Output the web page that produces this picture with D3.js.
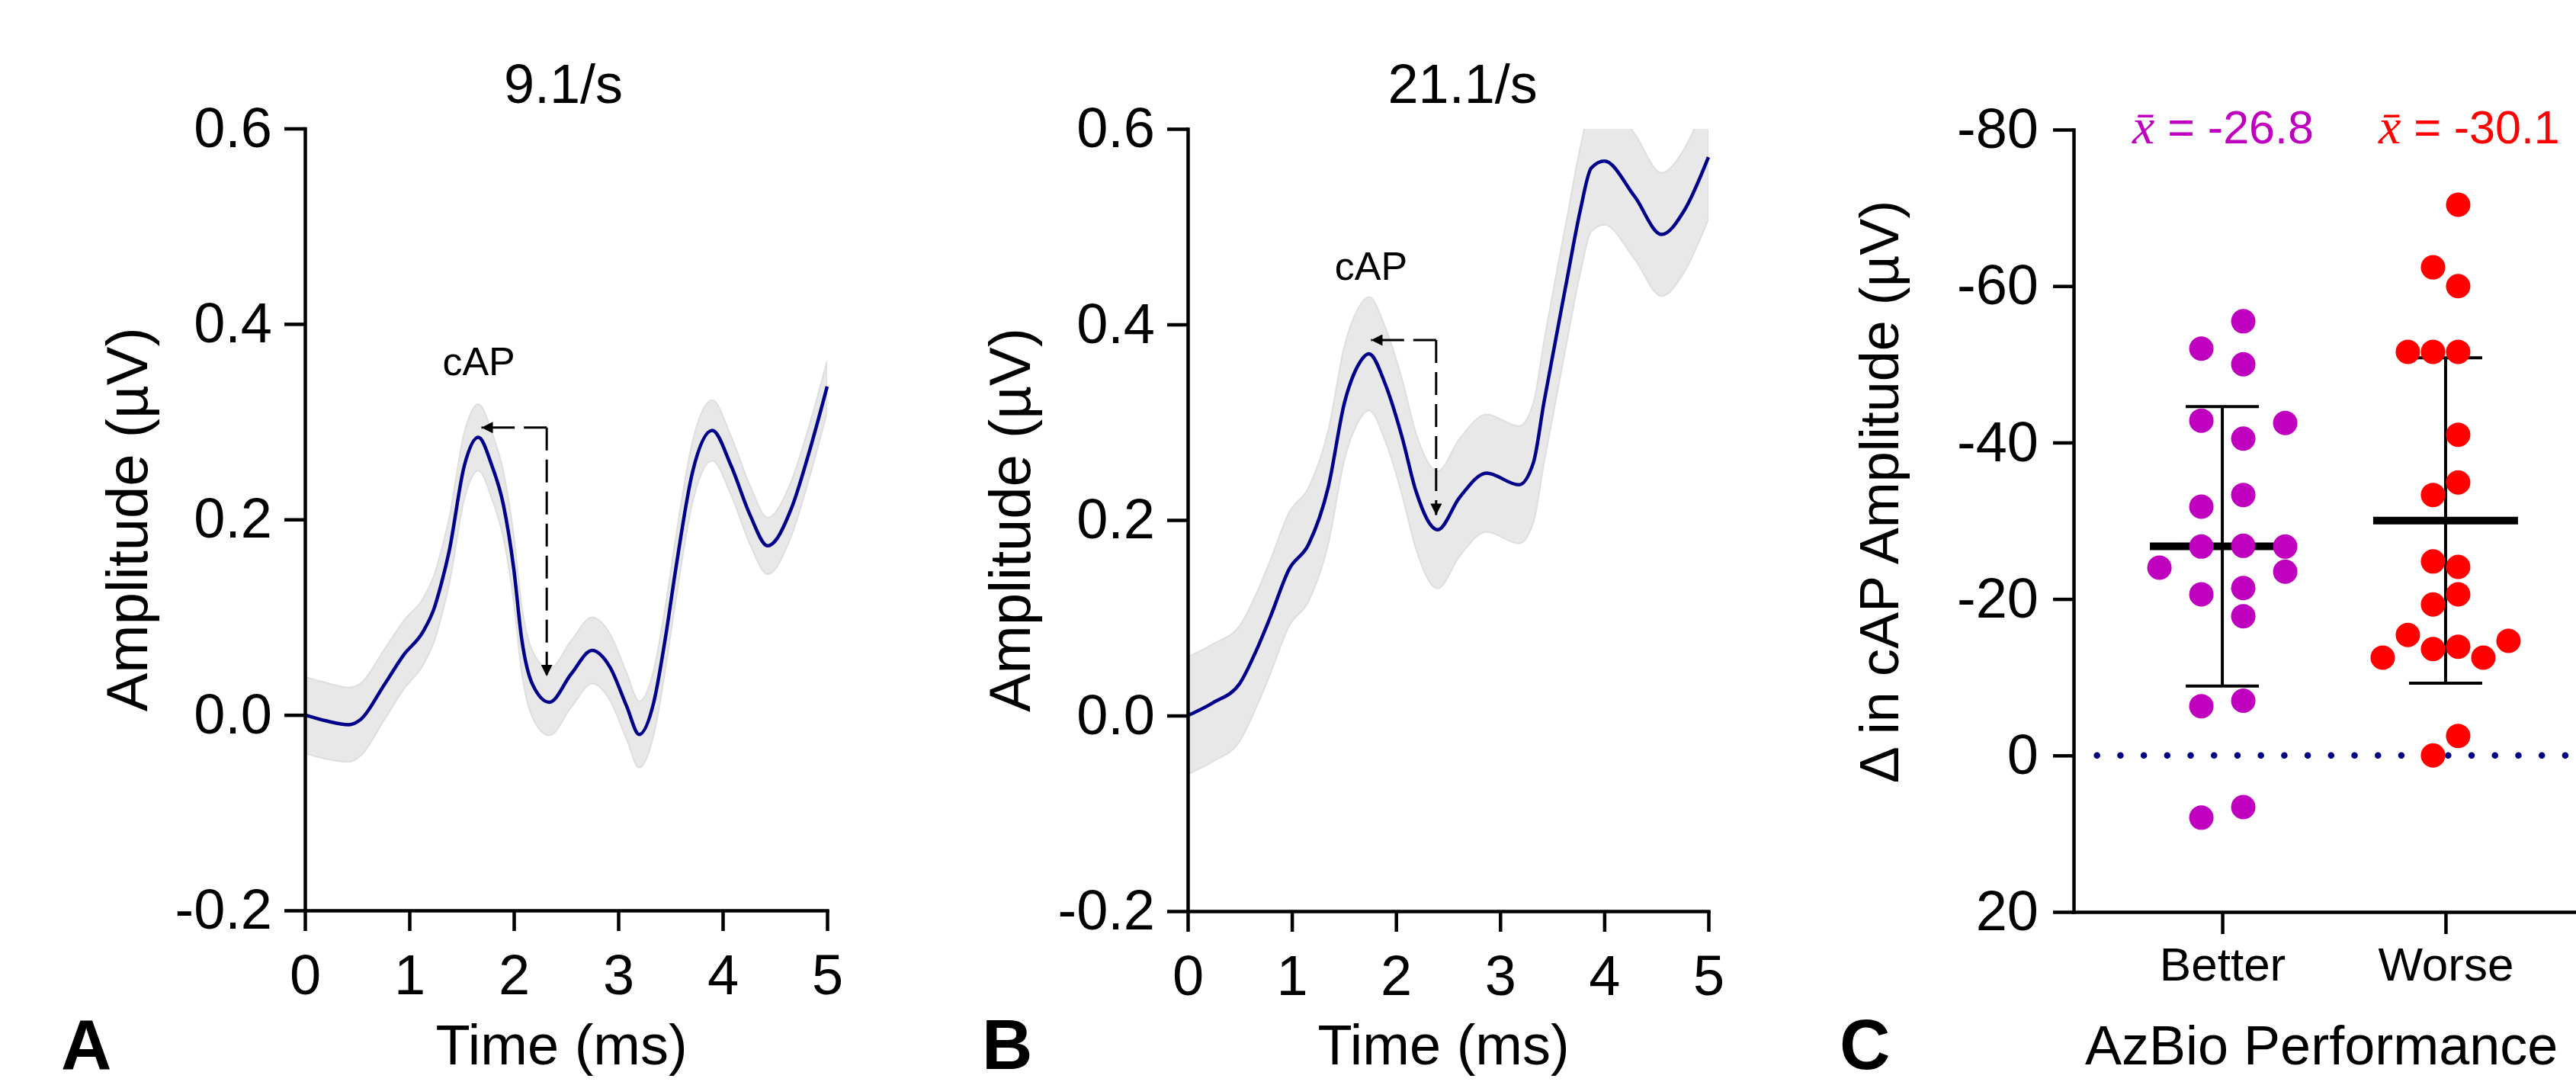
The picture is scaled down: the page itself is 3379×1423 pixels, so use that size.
<!DOCTYPE html>
<html>
<head>
<meta charset="utf-8">
<script src="https://cdn.jsdelivr.net/npm/d3@7"></script>
<style>
  body { margin: 0; background: #fff; }
  svg { display: block; font-family: "Liberation Sans", Arial, sans-serif; }
</style>
</head>
<body>
<svg id="chart" width="3379" height="1423"></svg>
<script>
// panel A, 9.1/s : grand average waveform and its error band
var timeA = [0, 0.2, 0.42, 0.53, 0.76, 0.95, 1.13, 1.24, 1.30, 1.38,
             1.526, 1.66, 1.79, 1.90, 2.0, 2.075, 2.18, 2.34, 2.55, 2.75,
             2.92, 3.08, 3.2, 3.34, 3.45, 3.55, 3.71, 3.9, 4.08, 4.26,
             4.43, 4.66, 4.82, 5.0];
var ampA = [0, -0.006, -0.01, -0.005, 0.031, 0.062, 0.085, 0.11, 0.132, 0.167,
            0.255, 0.284, 0.255, 0.215, 0.149, 0.078, 0.031, 0.013, 0.042, 0.066,
            0.049, 0.009, -0.02, 0.013, 0.078, 0.149, 0.248, 0.291, 0.255, 0.205,
            0.173, 0.212, 0.266, 0.336];
var semA = [0.039, 0.039, 0.038, 0.037, 0.036, 0.035, 0.034, 0.034, 0.034, 0.034,
            0.034, 0.034, 0.034, 0.034, 0.034, 0.034, 0.034, 0.034, 0.034, 0.034,
            0.034, 0.034, 0.034, 0.033, 0.032, 0.032, 0.031, 0.031, 0.030, 0.030,
            0.029, 0.028, 0.027, 0.026];

// panel B, 21.1/s
var timeB = [0, 0.24, 0.5, 0.66, 0.79, 0.975, 1.16, 1.35, 1.505, 1.64,
             1.74, 1.90, 2.06, 2.19, 2.40, 2.61, 2.87, 3.18, 3.32, 3.42,
             3.64, 3.77, 3.875, 4.0, 4.29, 4.55, 4.77, 5.0];
var ampB = [0, 0.013, 0.033, 0.067, 0.10, 0.15, 0.175, 0.234, 0.32, 0.359,
            0.370, 0.338, 0.284, 0.230, 0.190, 0.223, 0.248, 0.236, 0.259, 0.32,
            0.445, 0.517, 0.560, 0.567, 0.531, 0.492, 0.517, 0.571];
var semB = [0.060, 0.060, 0.059, 0.058, 0.058, 0.058, 0.058, 0.058, 0.058, 0.058,
            0.058, 0.058, 0.059, 0.059, 0.060, 0.060, 0.060, 0.060, 0.061, 0.062,
            0.063, 0.064, 0.065, 0.065, 0.064, 0.063, 0.063, 0.063];

var waveTitles = ['9.1/s', '21.1/s'];
var timeTicks = [0, 1, 2, 3, 4, 5];
var ampTicks = [-0.2, 0, 0.2, 0.4, 0.6];
// cAP annotation: [corner time, corner amp, left tip time, lower tip amp]
var arrowA = [2.315, 0.294, 1.69, 0.0395];
var arrowB = [2.385, 0.384, 1.76, 0.205];
var capLabelA = [1.665, 0.348];
var capLabelB = [1.76, 0.446];

// panel C: change in cAP amplitude per subject
var groups = ['Better', 'Worse'];
var betterValues = [-50.0, -55.5, -52.0, -40.5, -42.8, -42.5, -33.3, -31.8, -26.8, -26.7,
                    -26.7, -21.4, -20.6, -23.5, -24.0, -17.8, -7.0, -6.3, 6.6, 7.95];
var worseValues = [-70.4, -60.0, -62.4, -51.6, -51.6, -51.6, -41.0, -34.9, -33.3, -24.1,
                   -24.8, -20.6, -19.3, -13.9, -13.6, -15.4, -12.5, -14.65, -12.5, -2.5, 0.0];
var meanLabels = ['-26.8', '-30.1'];
var deltaTicks = [-80, -60, -40, -20, 0, 20];

var groupColors = ['#bf00bf', '#ff0000'];
var FONT = '"Liberation Sans", Arial, sans-serif';

var svg = d3.select('#chart');
var defs = svg.append('defs');
defs.append('marker')
    .attr('id', 'arrowhead')
    .attr('viewBox', '0 0 10 10')
    .attr('refX', 10).attr('refY', 5)
    .attr('markerWidth', 17).attr('markerHeight', 15)
    .attr('markerUnits', 'userSpaceOnUse')
    .attr('orient', 'auto')
  .append('path')
    .attr('d', 'M0,0L10,5L0,10z')
    .attr('fill', '#000');

var styleAxis = function(g, size) {
    g.attr('font-family', null).attr('font-size', null);
    g.selectAll('.domain').attr('stroke', '#000').attr('stroke-width', 4.5)
        .attr('stroke-linecap', 'square');
    g.selectAll('.tick line').attr('stroke', '#000').attr('stroke-width', 4.5);
    g.selectAll('.tick text').attr('fill', '#000')
        .style('font-family', FONT).style('font-size', size + 'px');
};

var drawWave = function(p) {
    var x = d3.scaleLinear().domain([0, 5]).range([p.left, p.right]);
    var y = d3.scaleLinear().domain([-0.2, 0.6]).range([p.bottom, p.top]);
    var g = svg.append('g');

    defs.append('clipPath').attr('id', p.id + '-clip')
      .append('rect')
        .attr('x', p.left).attr('y', p.top)
        .attr('width', p.right - p.left).attr('height', p.bottom - p.top);

    var pts = p.time.map(function(t, i) {
        return {t: t, v: p.amp[i], s: p.sem[i]};
    });

    var band = d3.area().curve(d3.curveMonotoneX)
        .x(function(d) { return x(d.t); })
        .y0(function(d) { return y(d.v - d.s); })
        .y1(function(d) { return y(d.v + d.s); });
    var line = d3.line().curve(d3.curveMonotoneX)
        .x(function(d) { return x(d.t); })
        .y(function(d) { return y(d.v); });

    g.append('path')
        .attr('clip-path', 'url(#' + p.id + '-clip)')
        .attr('d', band(pts))
        .attr('fill', '#e8e8e8')
        .attr('stroke', '#dedede')
        .attr('stroke-width', 2);

    g.append('path')
        .attr('d', line(pts))
        .attr('fill', 'none')
        .attr('stroke', '#00008b')
        .attr('stroke-width', 4.5);

    // dashed cAP arrows, both leaving the same corner
    var cx = x(p.arrow[0]), cy = y(p.arrow[1]);
    [[x(p.arrow[2]), cy], [cx, y(p.arrow[3])]].forEach(function(end) {
        g.append('path')
            .attr('d', 'M' + cx + ',' + cy + 'L' + end[0] + ',' + end[1])
            .attr('fill', 'none')
            .attr('stroke', '#000')
            .attr('stroke-width', 3)
            .attr('stroke-dasharray', '30,12')
            .attr('marker-end', 'url(#arrowhead)');
    });

    g.append('text')
        .attr('x', x(p.cap[0])).attr('y', y(p.cap[1]))
        .attr('text-anchor', 'middle')
        .style('font-size', '52px')
        .text('cAP');

    var yAxis = g.append('g')
        .attr('transform', 'translate(' + p.left + ',0)')
        .call(d3.axisLeft(y).tickValues(ampTicks).tickSize(27).tickPadding(16)
              .tickSizeOuter(0).tickFormat(function(d) { return d.toFixed(1); }));
    styleAxis(yAxis, 74);

    var xAxis = g.append('g')
        .attr('transform', 'translate(0,' + p.bottom + ')')
        .call(d3.axisBottom(x).tickValues(timeTicks).tickSize(27).tickPadding(30)
              .tickSizeOuter(0).tickFormat(function(d) { return String(d); }));
    styleAxis(xAxis, 74);

    g.append('text')
        .attr('x', x(p.titleT)).attr('y', 135)
        .attr('text-anchor', 'middle')
        .style('font-size', '72px')
        .text(p.title);

    g.append('text')
        .attr('transform', 'translate(' + (p.left - 207) + ',' + ((p.top + p.bottom) / 2) + ') rotate(-90)')
        .attr('text-anchor', 'middle')
        .style('font-size', '76px')
        .text('Amplitude (\u00b5V)');

    g.append('text')
        .attr('x', (p.left + p.right) / 2 - 6).attr('y', 1396)
        .attr('text-anchor', 'middle')
        .style('font-size', '74px')
        .text('Time (ms)');

    g.append('text')
        .attr('x', p.letterX).attr('y', 1402)
        .style('font-size', '92px').style('font-weight', 'bold')
        .text(p.letter);
};

drawWave({id: 'pa', left: 400, right: 1085, top: 168.5, bottom: 1194,
          time: timeA, amp: ampA, sem: semA, title: waveTitles[0], titleT: 2.475,
          arrow: arrowA, cap: capLabelA, letter: 'A', letterX: 80});
drawWave({id: 'pb', left: 1558, right: 2241, top: 169, bottom: 1195,
          time: timeB, amp: ampB, sem: semB, title: waveTitles[1], titleT: 2.64,
          arrow: arrowB, cap: capLabelB, letter: 'B', letterX: 1288});

// ---- panel C ----
var yC = d3.scaleLinear().domain([-80, 20]).range([170, 1196]);
var xC = d3.scalePoint().domain(groups).range([2720, 3403]).padding(0.666);
var dotR = 16;
var swarmWidth = 165;
// column search order used when a dot collides with one already placed
var columnOrder = [[0.5, -0.5, 1.5, -1.5, 2.5, -2.5],
                   [0.5, -0.5, -1.5, 1.5, 2.5, -2.5]];

var swarm = function(values, order) {
    var placed = [];
    values.forEach(function(v) {
        var yy = yC(v);
        var col = order.find(function(c) {
            return !placed.some(function(q) {
                return q.col === c && Math.abs(q.y - yy) < 2 * dotR;
            });
        });
        placed.push({value: v, col: col, y: yy});
    });
    var span = d3.max(placed, function(d) { return d.col; }) - d3.min(placed, function(d) { return d.col; });
    var step = span > 0 ? swarmWidth / span : 0;
    placed.forEach(function(d) { d.dx = d.col * step; });
    return placed;
};

var gC = svg.append('g');

// dotted zero line
gC.append('line')
    .attr('x1', xC.range()[0] + 30.7).attr('x2', xC.range()[1])
    .attr('y1', yC(0)).attr('y2', yC(0))
    .attr('stroke', '#000080')
    .attr('stroke-width', 8.5)
    .attr('stroke-linecap', 'round')
    .attr('stroke-dasharray', '0.01,30.7');

[betterValues, worseValues].forEach(function(vals, i) {
    var cx = xC(groups[i]);
    var m = d3.mean(vals), sd = d3.deviation(vals);

    gC.append('line')
        .attr('x1', cx).attr('x2', cx)
        .attr('y1', yC(m - sd)).attr('y2', yC(m + sd))
        .attr('stroke', '#000').attr('stroke-width', 4);
    [m - sd, m + sd].forEach(function(v) {
        gC.append('line')
            .attr('x1', cx - 48).attr('x2', cx + 48)
            .attr('y1', yC(v)).attr('y2', yC(v))
            .attr('stroke', '#000').attr('stroke-width', 4);
    });
    gC.append('line')
        .attr('x1', cx - 95).attr('x2', cx + 95)
        .attr('y1', yC(m)).attr('y2', yC(m))
        .attr('stroke', '#000').attr('stroke-width', 10);

    gC.selectAll('circle.g' + i)
        .data(swarm(vals, columnOrder[i]))
        .enter()
        .append('circle')
        .attr('class', 'g' + i)
        .attr('cx', function(d) { return cx + d.dx; })
        .attr('cy', function(d) { return d.y; })
        .attr('r', dotR)
        .attr('fill', groupColors[i]);
});

// mean annotations above the groups
var meanLabelShift = [-118, -88];
meanLabels.forEach(function(lbl, i) {
    var t = gC.append('text')
        .attr('x', xC(groups[i]) + meanLabelShift[i]).attr('y', 188)
        .attr('fill', groupColors[i])
        .style('font-size', '61px');
    t.append('tspan')
        .style('font-family', '"Liberation Serif", "DejaVu Serif", serif')
        .style('font-style', 'italic')
        .style('font-size', '66px')
        .text('x\u0304');
    t.append('tspan').text(' = ' + lbl);
});

var yAxisC = gC.append('g')
    .attr('transform', 'translate(' + xC.range()[0] + ',0)')
    .call(d3.axisLeft(yC).tickValues(deltaTicks).tickSize(27).tickPadding(19)
          .tickSizeOuter(0).tickFormat(function(d) { return String(d); }));
styleAxis(yAxisC, 74);

var xAxisC = gC.append('g')
    .attr('transform', 'translate(0,' + yC(20) + ')')
    .call(d3.axisBottom(xC).tickSize(29).tickPadding(17).tickSizeOuter(0));
styleAxis(xAxisC, 62);

gC.append('text')
    .attr('transform', 'translate(2490,645) rotate(-90)')
    .attr('text-anchor', 'middle')
    .style('font-size', '72px')
    .text('\u0394 in cAP Amplitude (\u00b5V)');

gC.append('text')
    .attr('x', 2735).attr('y', 1396)
    .style('font-size', '72px')
    .text('AzBio Performance');

gC.append('text')
    .attr('x', 2413).attr('y', 1402)
    .style('font-size', '92px').style('font-weight', 'bold')
    .text('C');
</script>
</body>
</html>
